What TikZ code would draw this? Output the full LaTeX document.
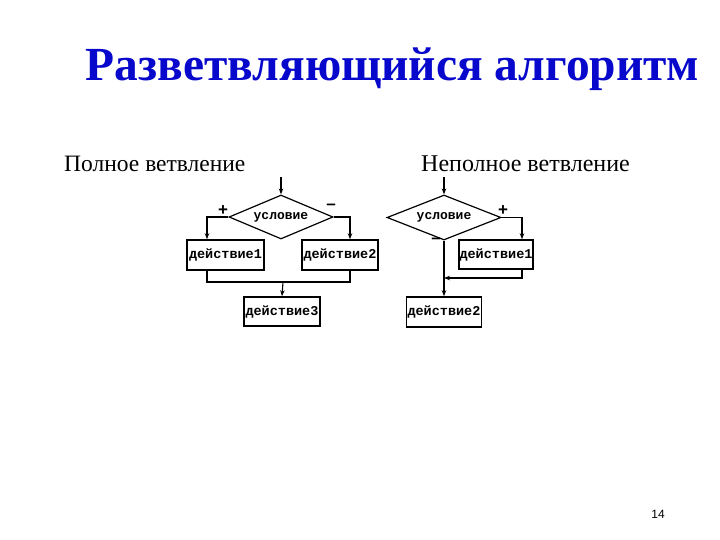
\documentclass[tikz,border=0pt]{standalone}
\usepackage{fontspec}
\setmainfont{Liberation Serif}
\newfontfamily\boxmono{Liberation Mono}
\newfontfamily\pagesans{Liberation Sans}
\usetikzlibrary{shapes.geometric,arrows.meta}
\definecolor{titleblue}{RGB}{8,8,205}
\tikzset{
  x=1pt,y=-1pt,
  conn/.style={line width=1.1pt,black},
  arr/.style={conn,-{Stealth[length=6pt,width=4.5pt]}},
  actbox/.style={draw,line width=1.6pt,rectangle,inner sep=0pt,font=\boxmono\bfseries\fontsize{13.5}{13.5}\selectfont},
  cond/.style={draw,line width=1.2pt,diamond,inner sep=0pt,font=\boxmono\bfseries\fontsize{13}{13}\selectfont},
  sign/.style={inner sep=0pt,font=\pagesans\bfseries\fontsize{17}{17}\selectfont},
}
\begin{document}
\begin{tikzpicture}
\useasboundingbox (0,0) rectangle (720,540);
% title and captions
\node[anchor=base,inner sep=0pt,text=titleblue,font=\bfseries\fontsize{47.5}{47.5}\selectfont] (title) at (392.5,81) {Разветвляющийся алгоритм};
\node[anchor=base west,inner sep=0pt,font=\fontsize{23.5}{23.5}\selectfont] (capL) at (64,172) {Полное ветвление};
\node[anchor=base west,inner sep=0pt,font=\fontsize{24}{24}\selectfont] (capR) at (421,172) {Неполное ветвление};
\node[anchor=base,inner sep=0pt,font=\pagesans\fontsize{12}{12}\selectfont] (pnum) at (658,518) {14};

% ---- full branching ----
\coordinate (inL) at (281,177);
\node[cond,minimum width=104pt,minimum height=44pt,shape aspect=2.36] (d1) at (281,217) {условие};
\node[actbox,minimum width=77pt,minimum height=30pt] (a1) at (225.5,255) {действие1};
\node[actbox,minimum width=76pt,minimum height=30pt] (a2) at (340,255) {действие2};
\node[actbox,minimum width=76pt,minimum height=29pt] (a3) at (282,311.5) {действие3};
\node[sign] (pl1) at (223,211) {+};
\node[sign] (mi1) at (331,207) {–};
\coordinate (mL) at (283,282);
\draw[arr] (inL) -- (d1.north);
\draw[arr] (d1.west) -| ([xshift=-18.5pt]a1.north);
\draw[arr] (d1.east) -| ([xshift=10pt]a2.north);
\draw[conn] ([xshift=-18.5pt]a1.south) |- (mL) -| ([xshift=10pt]a2.south);
\draw[arr] (mL) -- (a3.north);

% ---- partial branching ----
\coordinate (inR) at (444,177);
\node[cond,minimum width=114pt,minimum height=45pt,shape aspect=2.53] (d2) at (444,217.5) {условие};
\node[actbox,minimum width=74pt,minimum height=29pt] (b1) at (496,254.5) {действие1};
\node[actbox,minimum width=75pt,minimum height=30pt] (b2) at (444,312) {действие2};
\node[sign] (pl2) at (503,211) {+};
\node[sign] (mi2) at (436,241) {–};
\coordinate (mR) at (444,278);
\draw[arr] (inR) -- (d2.north);
\draw[arr] (d2.east) -| ([xshift=26pt]b1.north);
\draw[arr] ([xshift=26pt]b1.south) |- (mR);
\draw[arr] (d2.south) -- (b2.north);
\end{tikzpicture}
\end{document}
